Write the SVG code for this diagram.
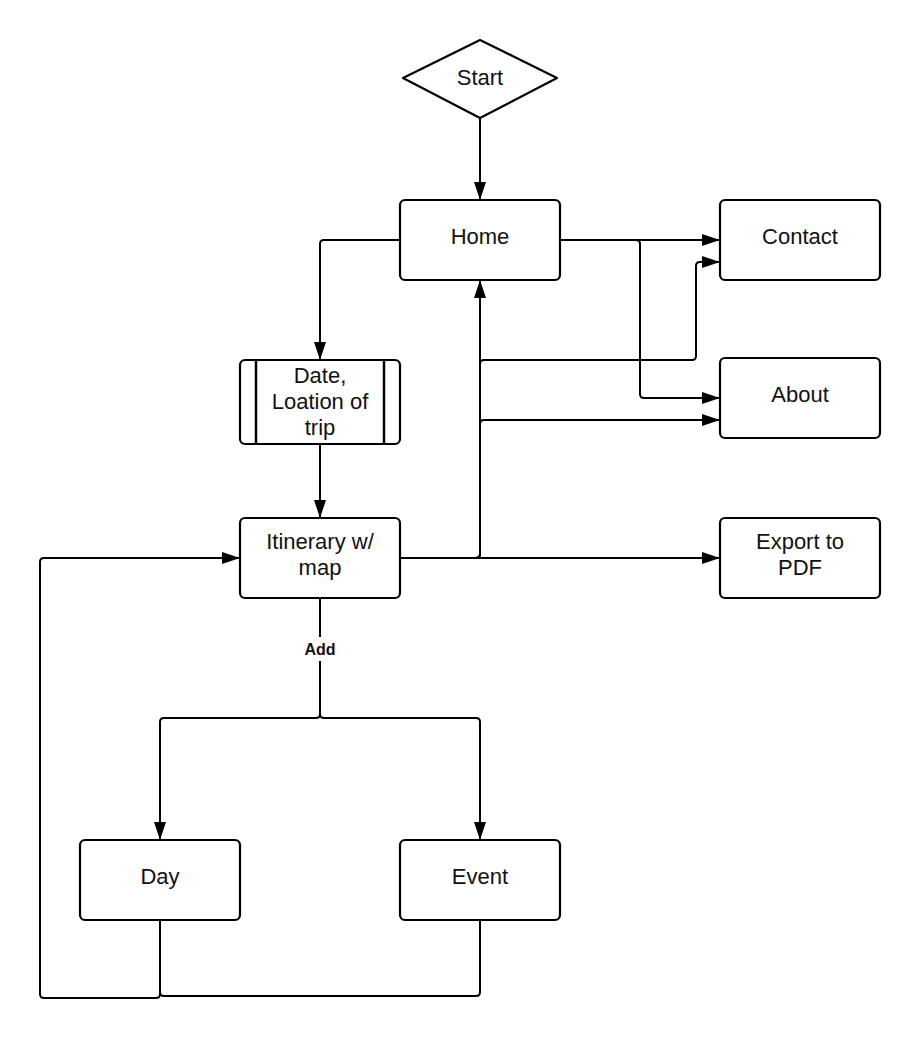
<svg xmlns="http://www.w3.org/2000/svg" width="920" height="1040" viewBox="0 0 920 1040">
<style>
.box{fill:#fff;stroke:#000;stroke-width:2.2}
.t{font-family:"Liberation Sans",Arial,sans-serif;font-size:22px;fill:#111;text-anchor:middle}
.c{fill:none;stroke:#000;stroke-width:2}
.lbl{font-family:"Liberation Sans",Arial,sans-serif;font-size:16px;font-weight:bold;fill:#111;text-anchor:middle}
</style>
<defs>
<marker id="arr" markerUnits="userSpaceOnUse" markerWidth="20" markerHeight="14" viewBox="0 0 20 14" refX="19" refY="7" orient="auto">
<path d="M1,1 L19,7 L1,13 z" fill="#000"/>
</marker>
</defs>
<rect width="920" height="1040" fill="#fff"/>
<g id="connectors">
<path class="c" d="M480,118 V200" marker-end="url(#arr)"/>
<path class="c" d="M400,240 H324 Q320,240 320,244 V360" marker-end="url(#arr)"/>
<path class="c" d="M560,240 H720" marker-end="url(#arr)"/>
<path class="c" d="M560,240 H636 Q640,240 640,244 V394 Q640,398 644,398 H720" marker-end="url(#arr)"/>
<path class="c" d="M320,445 V518" marker-end="url(#arr)"/>
<path class="c" d="M400,558 H476 Q480,558 480,554 V280" marker-end="url(#arr)"/>
<path class="c" d="M400,558 H476 Q480,558 480,554 V364 Q480,360 484,360 H692 Q696,360 696,356 V266 Q696,262 700,262 H720" marker-end="url(#arr)"/>
<path class="c" d="M400,558 H476 Q480,558 480,554 V424 Q480,420 484,420 H720" marker-end="url(#arr)"/>
<path class="c" d="M400,558 H720" marker-end="url(#arr)"/>
<path class="c" d="M320,598 V714 Q320,718 316,718 H164 Q160,718 160,722 V840" marker-end="url(#arr)"/>
<path class="c" d="M320,598 V714 Q320,718 324,718 H476 Q480,718 480,722 V840" marker-end="url(#arr)"/>
<path class="c" d="M160,920 V994 Q160,998 156,998 H44 Q40,998 40,994 V562 Q40,558 44,558 H240" marker-end="url(#arr)"/>
<path class="c" d="M480,920 V992 Q480,996 476,996 H164 Q160,996 160,992"/>
<rect x="298" y="637" width="44" height="24" fill="#fff"/>
<text class="lbl" x="320" y="655">Add</text>
</g>
<g id="start">
<path class="box" d="M403,78 L480,40 L557,78 L480,118 Z" stroke-linejoin="round"/>
<text class="t" x="480" y="85">Start</text>
</g>
<g id="home">
<rect class="box" x="400" y="200" width="160" height="80" rx="5"/>
<text class="t" x="480" y="244">Home</text>
</g>
<g id="contact">
<rect class="box" x="720" y="200" width="160" height="80" rx="5"/>
<text class="t" x="800" y="244">Contact</text>
</g>
<g id="about">
<rect class="box" x="720" y="358" width="160" height="80" rx="5"/>
<text class="t" x="800" y="402">About</text>
</g>
<g id="date">
<rect class="box" x="240" y="360" width="160" height="84" rx="5"/>
<line x1="256" y1="360" x2="256" y2="444" stroke="#000" stroke-width="2.5"/>
<line x1="384" y1="360" x2="384" y2="444" stroke="#000" stroke-width="2.5"/>
<text class="t" x="320" y="383">Date,</text>
<text class="t" x="320" y="409">Loation of</text>
<text class="t" x="320" y="435">trip</text>
</g>
<g id="itinerary">
<rect class="box" x="240" y="518" width="160" height="80" rx="5"/>
<text class="t" x="320" y="549">Itinerary w/</text>
<text class="t" x="320" y="575">map</text>
</g>
<g id="export">
<rect class="box" x="720" y="518" width="160" height="80" rx="5"/>
<text class="t" x="800" y="549">Export to</text>
<text class="t" x="800" y="575">PDF</text>
</g>
<g id="day">
<rect class="box" x="80" y="840" width="160" height="80" rx="5"/>
<text class="t" x="160" y="884">Day</text>
</g>
<g id="event">
<rect class="box" x="400" y="840" width="160" height="80" rx="5"/>
<text class="t" x="480" y="884">Event</text>
</g>
</svg>
